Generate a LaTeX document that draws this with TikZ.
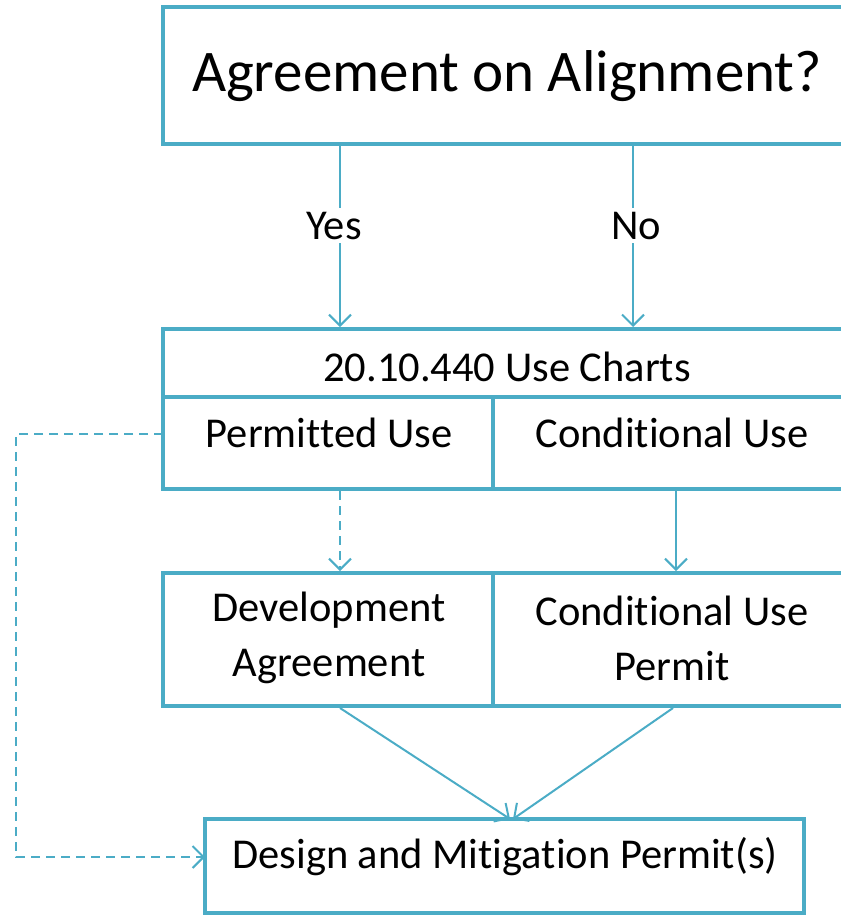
\documentclass[tikz,border=0pt]{standalone}
\usepackage{fontspec}
\setmainfont{Carlito}[Ligatures=NoCommon]
\usetikzlibrary{arrows.meta}
\definecolor{accent}{HTML}{4BACC6}
\begin{document}
\begin{tikzpicture}[x=1pt,y=-1pt,
  cell/.style={draw=accent, line width=4pt, inner sep=0pt, fill=white},
  txt/.style={font=\fontsize{42.5}{55}\selectfont, align=center, inner sep=0pt},
  big/.style={font=\fontsize{59}{70}\selectfont, inner sep=0pt},
  conn/.style={draw=accent, line width=2pt, -{Straight Barb[length=11pt,width=22pt,line width=2pt]}},
  dconn/.style={conn, dash pattern=on 9pt off 6pt},
  lbl/.style={txt, fill=white, inner sep=4pt}]
\useasboundingbox (0,0) rectangle (841,916);
\clip (0,0) rectangle (841,916);
% boxes
\node[cell, minimum width=688pt, minimum height=137pt] (q) at (507,75.5) {};
\node[big] (qt) at (507,76) {Agreement on Alignment?};
\node[cell, minimum width=688pt, minimum height=68pt] (hdr) at (507,363) {};
\node[txt] (hdrt) at (507,367) {20.10.440 Use Charts};
\node[cell, minimum width=330pt, minimum height=92pt] (perm) at (328,443) {};
\node[txt] (permt) at (329,433) {Permitted Use};
\node[cell, minimum width=358pt, minimum height=92pt] (cond) at (672,443) {};
\node[txt] (condt) at (672,433) {Conditional Use};
\node[cell, minimum width=330pt, minimum height=133pt] (dev) at (328,639.5) {};
\node[txt] (devt) at (329,638) {Development\\Agreement};
\node[cell, minimum width=358pt, minimum height=133pt] (cup) at (672,639.5) {};
\node[txt] (cupt) at (672,638) {Conditional Use\\Permit};
\node[cell, minimum width=599pt, minimum height=94pt] (des) at (504.5,866) {};
\node[txt] (dest) at (505,857) {Design and Mitigation Permit(s)};
% helper coordinates
\coordinate (yx) at (340,0);
\coordinate (nx) at (633,0);
\coordinate (cx) at (676,0);
\coordinate (dl) at (510,819);
\coordinate (dr) at (513,819);
\coordinate (c1) at (16,434);
\coordinate (c2) at (16,857);
\coordinate (c0) at (163,434);
\coordinate (c3) at (205,857);
% connectors
\draw[conn] (q.south -| yx) -- node[lbl, pos=0.44, xshift=-6pt] (yes) {Yes} (hdr.north -| yx);
\draw[conn] (q.south -| nx) -- node[lbl, pos=0.44, xshift=3pt] (no) {No} (hdr.north -| nx);
\draw[dconn] (perm.south -| yx) -- (dev.north -| yx);
\draw[conn] (cond.south -| cx) -- (cup.north -| cx);
\draw[conn] (dev.south -| yx) -- (dl);
\draw[conn] (cup.south -| 673,0) -- (dr);
\draw[dconn] (c0) -- (c1) -- (c2) -- (c3);
\end{tikzpicture}
\end{document}
